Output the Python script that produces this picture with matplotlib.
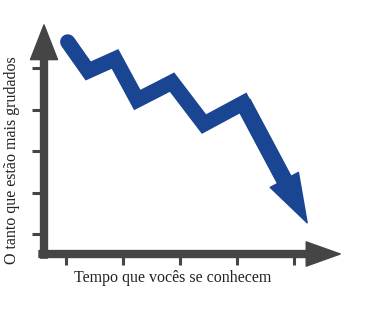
import matplotlib
matplotlib.use("Agg")
import matplotlib.pyplot as plt

BLUE = "#1a4593"
GRAY = "#454545"

# zigzag trend (x = time, y = how attached)
trend_x = [1.03, 1.39, 1.86, 2.25, 2.86, 3.42, 4.11, 5.23]
trend_y = [5.63, 4.93, 5.22, 4.23, 4.66, 3.65, 4.16, 1.27]

x_ticks = [1, 2, 3, 4, 5]
y_ticks = [1, 2, 3, 4, 5]

x_label = "Tempo que vocês se conhecem"
y_label = "O tanto que estão mais grudados"

origin_x, origin_y = 0.614, 0.518

fig = plt.figure(figsize=(3.75, 3.16), dpi=100)
ax = fig.add_axes([0, 0, 1, 1])
ax.set_xlim(-0.158, 6.42)
ax.set_ylim(-0.976, 6.64)
ax.axis("off")

# axes with arrow heads
ax.annotate("", xy=(origin_x, 6.04), xytext=(origin_x, 0.42),
            arrowprops=dict(arrowstyle="simple,head_length=2.5,head_width=1.95,tail_width=0.5",
                            mutation_scale=10, color=GRAY, shrinkA=0, shrinkB=0))
ax.annotate("", xy=(5.81, origin_y), xytext=(0.526, origin_y),
            arrowprops=dict(arrowstyle="simple,head_length=2.45,head_width=1.75,tail_width=0.5",
                            mutation_scale=10, color=GRAY, shrinkA=0, shrinkB=0))

# tick marks
ax.hlines(y_ticks, 0.404, origin_x, color=GRAY, linewidth=2.2)
ax.vlines(x_ticks, 0.253, origin_y, color=GRAY, linewidth=2.2)

# trend line + arrow head on the last leg
ax.plot(trend_x[:-1] + [trend_x[-2] + 0.5 * (trend_x[-1] - trend_x[-2])],
        trend_y[:-1] + [trend_y[-2] + 0.5 * (trend_y[-1] - trend_y[-2])],
        color=BLUE, linewidth=11, solid_joinstyle="miter", solid_capstyle="round")
ax.annotate("", xy=(trend_x[-1], trend_y[-1]), xytext=(trend_x[-2], trend_y[-2]),
            arrowprops=dict(arrowstyle="simple,head_length=3.5,head_width=2.3,tail_width=1.1",
                            mutation_scale=10, color=BLUE, shrinkA=0, shrinkB=0))

ax.text(2.877, -0.06, x_label, ha="center", va="center", fontsize=11.5,
        family="Liberation Serif", color="#222222")
ax.text(0.053, 2.78, y_label, ha="center", va="center", fontsize=11.5,
        family="Liberation Serif", color="#222222", rotation=90)

fig.savefig("out.png", dpi=100)
